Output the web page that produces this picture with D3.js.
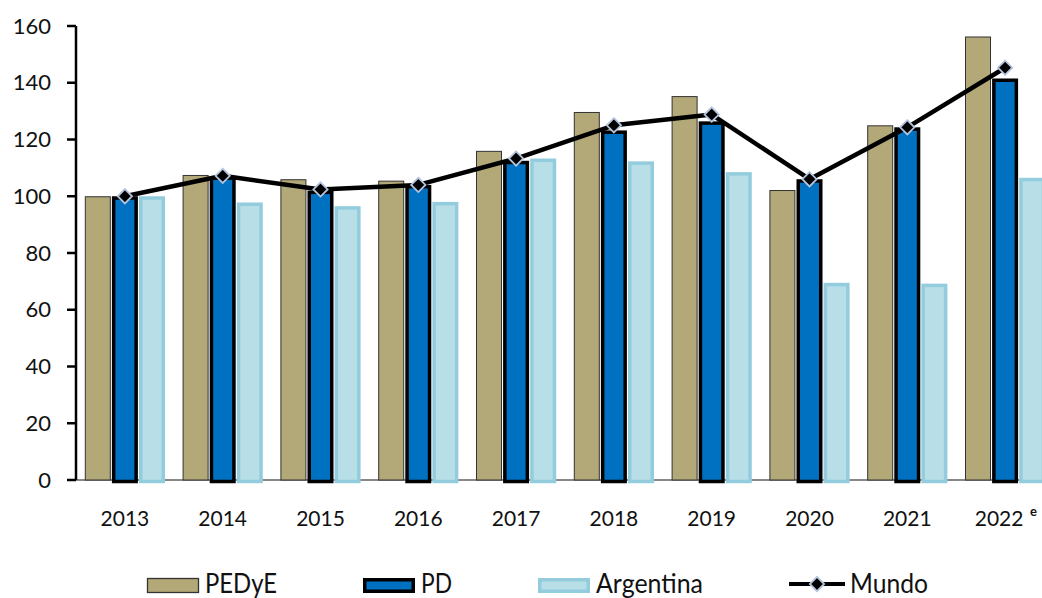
<!DOCTYPE html>
<html><head><meta charset="utf-8">
<script src="https://cdn.jsdelivr.net/npm/d3@7"></script>
<style>body{margin:0;background:#fff;overflow:hidden}svg{display:block}</style>
</head><body><svg id="c" width="1042" height="598"></svg>
<script>
const years = ["2013","2014","2015","2016","2017","2018","2019","2020","2021","2022"];
const pedye = [100,107.5,106,105.5,116,129.7,135.3,102.2,125,156.3];
const pd = [100,107,102,104,112.5,123.2,126.4,106,124.3,141.5];
const argentina = [100,97.8,96.5,98,113.3,112.3,108.5,69.5,69.2,106.5];
const mundo = [100,107.2,102.4,104,113.3,125,128.8,106,124.3,145.3];
const yTicks = [0,20,40,60,80,100,120,140,160];
const seriesNames = ["PEDyE","PD","Argentina","Mundo"];

const svg = d3.select("#c");
const left = 76, plotW = 978, y0 = 480, yTop = 26;
const x = d3.scaleBand().domain(years).range([left, left + plotW]).paddingInner(0.18).paddingOuter(0.09);
const xs = d3.scaleBand().domain([0,1,2]).range([0, x.bandwidth()]).paddingInner(0.04);
const y = d3.scaleLinear().domain([0,160]).range([y0, yTop]);
const font = "Lato, 'Open Sans', sans-serif";

const styles = [
  {fill:"#b3a878", stroke:"#333", sw:1},
  {fill:"#0070c0", stroke:"#000", sw:3.5},
  {fill:"#b8dee8", stroke:"#93cddd", sw:3.5}
];
const data = [pedye, pd, argentina];

svg.append("line").attr("x1", left).attr("x2", 1042).attr("y1", y0).attr("y2", y0)
  .attr("stroke", "#888").attr("stroke-width", 2);

data.forEach((arr, si) => {
  const s = styles[si];
  svg.append("g").selectAll("rect").data(arr).join("rect")
    .attr("x", (d,i) => x(years[i]) + xs(si) + s.sw/2)
    .attr("width", xs.bandwidth() - s.sw)
    .attr("y", d => y(d) + s.sw/2)
    .attr("height", d => y0 - y(d) - s.sw/2 + (si>0 ? 1.5 : 0))
    .attr("fill", s.fill).attr("stroke", s.stroke).attr("stroke-width", s.sw);
});

const cx = i => x(years[i]) + x.bandwidth()/2;
svg.append("path").datum(mundo)
  .attr("d", d3.line().x((d,i) => cx(i)).y(d => y(d)))
  .attr("fill", "none").attr("stroke", "#000").attr("stroke-width", 4.5).attr("stroke-linejoin","round");
const diamond = d3.symbol().type(d3.symbolDiamond2).size(130);
svg.append("g").selectAll("path").data(mundo).join("path")
  .attr("d", diamond)
  .attr("transform", (d,i) => `translate(${cx(i)},${y(d)})`)
  .attr("fill", "#000").attr("stroke", "#b4c4dc").attr("stroke-width", 1.8);

const ya = svg.append("g");
ya.append("line").attr("x1", left).attr("x2", left).attr("y1", y(160)).attr("y2", y0)
  .attr("stroke","#000").attr("stroke-width", 2.5);
yTicks.forEach(t => {
  ya.append("line").attr("x1", left-9).attr("x2", left).attr("y1", y(t)).attr("y2", y(t))
    .attr("stroke","#000").attr("stroke-width", 2.5);
  ya.append("text").attr("x", 51).attr("y", y(t)).attr("dy","0.35em").attr("text-anchor","end")
    .attr("font-family", font).attr("font-size", 22).attr("fill","#111").text(t);
});

years.forEach((yr, i) => {
  const last = i === years.length - 1;
  svg.append("text").attr("x", cx(i) - (last ? 6 : 0)).attr("y", 526).attr("text-anchor","middle")
    .attr("font-family", font).attr("font-size", 21).attr("fill","#111").text(yr);
  if (last) {
    svg.append("text").attr("x", cx(i) + 25).attr("y", 516).attr("font-family", font)
      .attr("font-size", 13).attr("font-weight","bold").attr("fill","#111").text("e");
  }
});

const lg = svg.append("g");
const lx = [147, 363, 538, 789];
const lw = [72, 31, 107, 78];
[0,1,2].forEach(si => {
  const s = styles[si];
  lg.append("rect").attr("x", lx[si] + s.sw/2).attr("y", 578 + s.sw/2)
    .attr("width", 52 - s.sw).attr("height", 15 - s.sw)
    .attr("fill", s.fill).attr("stroke", s.stroke).attr("stroke-width", si===0?1.3:s.sw);
  lg.append("text").attr("x", lx[si] + 58).attr("y", 593).attr("font-family", font)
    .attr("font-size", 26).attr("textLength", lw[si]).attr("lengthAdjust","spacingAndGlyphs")
    .attr("fill","#111").text(seriesNames[si]);
});
lg.append("line").attr("x1", 789).attr("x2", 845).attr("y1", 584).attr("y2", 584)
  .attr("stroke","#000").attr("stroke-width", 4);
lg.append("path").attr("d", diamond).attr("transform","translate(817,584)")
  .attr("fill","#000").attr("stroke","#b4c4dc").attr("stroke-width",1.8);
lg.append("text").attr("x", 850).attr("y", 593).attr("font-family", font)
  .attr("font-size", 26).attr("textLength", lw[3]).attr("lengthAdjust","spacingAndGlyphs")
  .attr("fill","#111").text(seriesNames[3]);
</script></body></html>
